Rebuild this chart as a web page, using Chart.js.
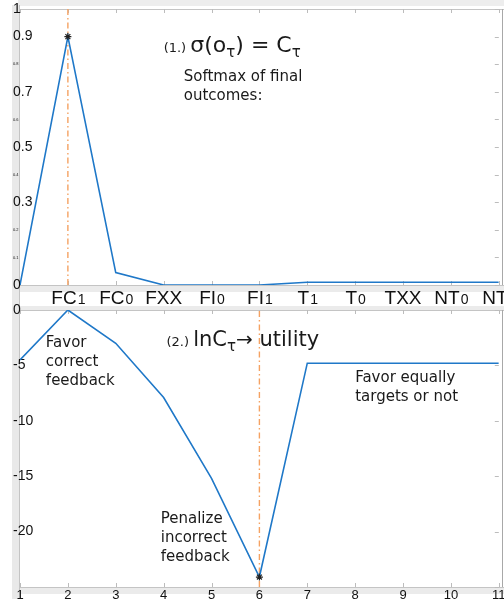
<!DOCTYPE html>
<html><head><meta charset="utf-8">
<script src="https://cdn.jsdelivr.net/npm/chart.js@4"></script>
<style>
html,body{margin:0;padding:0;background:#fff;}
#wrap{position:relative;width:504px;height:599px;overflow:hidden;background:#fff;}
canvas{position:absolute;left:0;}
#top{top:0;} #bot{top:300px;}
</style></head><body>
<div id="wrap"><canvas id="top" width="504" height="310"></canvas><canvas id="bot" width="504" height="299"></canvas></div>
<script>
/* ---------- data ---------- */
const xSteps       =[1,2,3,4,5,6,7,8,9,10,11];
const outcomeLabels=['','FC1','FC0','FXX','FI0','FI1','T1','T0','TXX','NT0','NT1'];
const softmaxVals  =[0,0.9,0.045,0,0,0,0.01,0.01,0.01,0.01,0.01];
const utilityVals  =[-4.5,0,-3,-7.9,-15.2,-24.1,-4.8,-4.8,-4.8,-4.8,-4.8];
const topMarkIdx=1, botMarkIdx=5;
const topMajorTicks=[0,0.3,0.5,0.7,0.9,1];

const LINE='#1f78c8', DASH='#f5a262', TXT='#111';
const FAM='"DejaVu Sans", sans-serif', TICKFAM='"Liberation Sans", Arial, sans-serif';

const pts=vals=>xSteps.map((x,i)=>({x,y:vals[i]}));

/* ---------- helpers ---------- */
function runs(ctx,x,y,list){
  list.forEach(r=>{
    ctx.font=`${r.size}px ${FAM}`;
    ctx.fillText(r.t,x,y+(r.dy||0));
    x+=ctx.measureText(r.t).width;
  });
}
function lines(ctx,x,y,arr,lh){
  ctx.font=`15px ${FAM}`;
  arr.forEach((t,i)=>ctx.fillText(t,x,y+i*lh));
}

/* frame + bands, drawn under everything */
const framePlugin={
  id:'frame',
  beforeDraw(chart,args,o){
    const {ctx,chartArea:a,scales:{x,y}}=chart, H=chart.height;
    ctx.save();
    ctx.fillStyle='#e9e9e9';
    ctx.fillRect(12,o.isTop?5:0,7,H);
    if(o.isTop){ctx.fillStyle='#ededed';ctx.fillRect(18,0,486,6);}
    ctx.fillStyle='#ebebeb';
    ctx.fillRect(19,a.bottom,485,7);
    if(!o.isTop){ctx.fillRect(19,a.top-4,485,4);}
    ctx.strokeStyle='#c4c4c4';ctx.lineWidth=1;
    ctx.beginPath();
    ctx.moveTo(19.5,o.isTop?5:0);ctx.lineTo(19.5,H);
    ctx.moveTo(19,a.top+0.5);ctx.lineTo(504,a.top+0.5);
    ctx.moveTo(19,a.bottom+0.5);ctx.lineTo(504,a.bottom+0.5);
    ctx.stroke();
    ctx.strokeStyle='#a8a8a8';
    ctx.beginPath();ctx.moveTo(502.5,a.top);ctx.lineTo(502.5,a.bottom);ctx.stroke();
    /* tick marks */
    ctx.strokeStyle='#bcbcbc';
    ctx.beginPath();
    xSteps.forEach(v=>{
      const px=Math.round(x.getPixelForValue(v))+0.5;
      ctx.moveTo(px,a.top);ctx.lineTo(px,a.top+4);
      ctx.moveTo(px,a.bottom);ctx.lineTo(px,a.bottom-4);
    });
    y.ticks.forEach(t=>{
      const py=Math.round(y.getPixelForValue(t.value))+0.5;
      ctx.moveTo(a.right-4,py);ctx.lineTo(a.right,py);
    });
    ctx.stroke();
    ctx.restore();
  }
};

/* notes & category labels */
const notesPlugin={
  id:'notes',
  afterDraw(chart,args,o){
    const {ctx,scales:{x,y}}=chart;
    ctx.save();ctx.fillStyle='#1a1a1a';ctx.textBaseline='alphabetic';ctx.textAlign='left';
    if(o.isTop){
      runs(ctx,x.getPixelForValue(4.0),y.getPixelForValue(0.844),[
        {t:'(1.) ',size:13},{t:'σ(o',size:22},{t:'τ',size:15,dy:5},{t:') = C',size:22},{t:'τ',size:15,dy:5}]);
      lines(ctx,x.getPixelForValue(4.42),y.getPixelForValue(0.738),['Softmax of final','outcomes:'],19);
      /* category labels, trailing digit smaller */
      const by=chart.chartArea.bottom+19;
      ctx.fillStyle=TXT;
      outcomeLabels.forEach((lab,i)=>{
        if(!lab)return;
        const m=lab.match(/^(.*?)(\d?)$/);
        ctx.font=`19px ${TICKFAM}`;const w1=ctx.measureText(m[1]).width;
        ctx.font=`14px ${TICKFAM}`;const w2=ctx.measureText(m[2]).width;
        const cx=x.getPixelForValue(xSteps[i]);
        let sx=cx-(w1+w2)/2;
        ctx.font=`19px ${TICKFAM}`;ctx.fillText(m[1],sx,by);
        ctx.font=`14px ${TICKFAM}`;ctx.fillText(m[2],sx+w1+1,by);
      });
    }else{
      runs(ctx,x.getPixelForValue(4.06),y.getPixelForValue(-3.24),[
        {t:'(2.) ',size:13},{t:'lnC',size:21},{t:'τ',size:15,dy:5},{t:'→',size:20},{t:' utility',size:21}]);
      lines(ctx,x.getPixelForValue(1.54),y.getPixelForValue(-3.3),['Favor','correct','feedback'],19);
      lines(ctx,x.getPixelForValue(8.0),y.getPixelForValue(-6.5),['Favor equally','targets or not'],19);
      lines(ctx,x.getPixelForValue(3.94),y.getPixelForValue(-19.2),['Penalize','incorrect','feedback'],19);
    }
    ctx.restore();
  }
};

function noPad(s){s.paddingLeft=0;s.paddingRight=0;s.paddingTop=0;s.paddingBottom=0;}

function makeChart(id,vals,markIdx,isTop){
  const yMin=isTop?0:-25, yMax=isTop?1:0, markX=xSteps[markIdx];
  return new Chart(document.getElementById(id),{
    type:'line',
    data:{datasets:[
      {data:[{x:markX,y:vals[markIdx]}],showLine:false,pointStyle:'star',pointRadius:3.5,
       borderColor:'#222',borderWidth:1.2,backgroundColor:'#222'},
      {data:pts(vals),borderColor:LINE,borderWidth:1.6,pointRadius:0,tension:0},
      {data:[{x:markX,y:yMin},{x:markX,y:yMax}],borderColor:DASH,borderWidth:1.4,
       borderDash:[6,3,1.5,3],pointRadius:0}
    ]},
    options:{
      responsive:false,animation:false,
      layout:{padding:{left:12,right:1,top:isTop?9:10,bottom:0}},
      plugins:{legend:{display:false},tooltip:{enabled:false},frame:{isTop},notes:{isTop}},
      scales:{
        x:{type:'linear',min:1,max:11,
           grid:{display:false,drawTicks:false},border:{display:false},
           afterFit:s=>{s.height=isTop?25:12;noPad(s);},
           ticks:{display:!isTop,stepSize:1,autoSkip:false,maxRotation:0,padding:1,
                  color:TXT,font:{family:TICKFAM,size:13}}},
        y:{min:yMin,max:yMax,
           grid:{display:false,drawTicks:false},border:{display:false},
           afterFit:s=>{s.width=8;noPad(s);},
           ticks:{stepSize:isTop?0.1:5,autoSkip:false,mirror:true,crossAlign:'near',padding:-7,color:TXT,
             callback:v=>{
               if(!isTop)return v===-25?'':v;
               const r=Math.round(v*10)/10;return r===0?'0':String(r);
             },
             font:c=>{
               if(!isTop||!c.tick)return {family:TICKFAM,size:14};
               const r=Math.round(c.tick.value*10)/10;
               return {family:TICKFAM,size:topMajorTicks.includes(r)?14:4};
             }}}
      }
    },
    plugins:[framePlugin,notesPlugin]
  });
}

makeChart('top',softmaxVals,topMarkIdx,true);
makeChart('bot',utilityVals,botMarkIdx,false);
</script>
</body></html>
